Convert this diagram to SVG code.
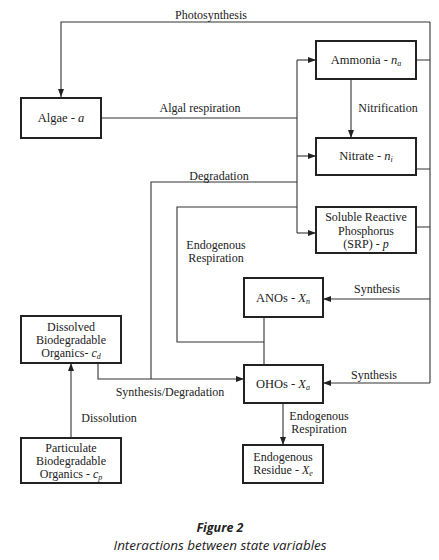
<svg xmlns="http://www.w3.org/2000/svg" width="439" height="560" viewBox="0 0 439 560">
<defs>
<style>
.box{fill:#fff;stroke:#222;stroke-width:2}
.ln{fill:none;stroke:#333;stroke-width:1.1}
.t{font-size:12px;fill:#222;text-anchor:middle}
.b{font-size:12.5px}
.v{font-style:italic}
.s{font-style:italic;font-size:8px}
.cap{fill:#222;text-anchor:middle;font-style:italic}
</style>
<marker id="ah" markerUnits="userSpaceOnUse" markerWidth="8" markerHeight="6" refX="8" refY="3" orient="auto">
<path d="M0,0 L8,3 L0,6 z" fill="#222"/>
</marker>
</defs>
<rect width="439" height="560" fill="#fff"/>
<g id="connectors" font-family="'Liberation Serif', 'DejaVu Serif', serif">
<path class="ln" d="M430,22 H61 V97" marker-end="url(#ah)"/>
<path class="ln" d="M101,118 H297"/>
<path class="ln" d="M297,60 V233"/>
<path class="ln" d="M297,60 H316" marker-end="url(#ah)"/>
<path class="ln" d="M297,156 H316" marker-end="url(#ah)"/>
<path class="ln" d="M297,233 H316" marker-end="url(#ah)"/>
<path class="ln" d="M351,79 V138" marker-end="url(#ah)"/>
<path class="ln" d="M416,60 H430 M416,169 H430 M416,227 H430"/>
<path class="ln" d="M430,22 V383"/>
<path class="ln" d="M430,299 H323" marker-end="url(#ah)"/>
<path class="ln" d="M430,383 H323" marker-end="url(#ah)"/>
<path class="ln" d="M297,182 H151 V379"/>
<path class="ln" d="M297,207 H177 V342 H264"/>
<path class="ln" d="M264,317 V365"/>
<path class="ln" d="M98,363 V379 H244" marker-end="url(#ah)"/>
<path class="ln" d="M71,438 V363" marker-end="url(#ah)"/>
<path class="ln" d="M283,403 V445" marker-end="url(#ah)"/>
<text class="t" x="211" y="19">Photosynthesis</text>
<text class="t" x="200" y="112">Algal respiration</text>
<text class="t" x="388" y="112">Nitrification</text>
<text class="t" x="219" y="180">Degradation</text>
<text class="t" x="216" y="249">Endogenous</text>
<text class="t" x="216" y="262">Respiration</text>
<text class="t" x="377" y="293">Synthesis</text>
<text class="t" x="374" y="379">Synthesis</text>
<text class="t" x="170" y="396">Synthesis/Degradation</text>
<text class="t" x="109" y="422">Dissolution</text>
<text class="t" x="319" y="420" font-size="11.5">Endogenous</text>
<text class="t" x="319" y="433" font-size="11.5">Respiration</text>
</g>
<g font-family="'Liberation Serif', 'DejaVu Serif', serif">
<g id="algae">
<rect class="box" x="21" y="98" width="80" height="40"/>
<text class="t b" x="61" y="122">Algae - <tspan class="v">a</tspan></text>
</g>
<g id="ammonia">
<rect class="box" x="316" y="41" width="100" height="38"/>
<text class="t b" x="366" y="64">Ammonia - <tspan class="v">n</tspan><tspan class="s" dy="2">a</tspan></text>
</g>
<g id="nitrate">
<rect class="box" x="316" y="138" width="100" height="37"/>
<text class="t b" x="366" y="160">Nitrate - <tspan class="v">n</tspan><tspan class="s" dy="2">i</tspan></text>
</g>
<g id="srp">
<rect class="box" x="316" y="207" width="100" height="46"/>
<text class="t" x="366" y="221">Soluble Reactive</text>
<text class="t" x="366" y="235">Phosphorus</text>
<text class="t" x="366" y="248">(SRP) - <tspan class="v">p</tspan></text>
</g>
<g id="anos">
<rect class="box" x="244" y="278" width="79" height="39"/>
<text class="t b" x="283" y="302">ANOs - <tspan class="v">X</tspan><tspan class="s" dy="2">n</tspan></text>
</g>
<g id="ohos">
<rect class="box" x="244" y="365" width="79" height="38"/>
<text class="t b" x="283" y="388">OHOs - <tspan class="v">X</tspan><tspan class="s" dy="2">a</tspan></text>
</g>
<g id="dissolved">
<rect class="box" x="21" y="316" width="100" height="47"/>
<text class="t" x="71" y="331">Dissolved</text>
<text class="t" x="71" y="344">Biodegradable</text>
<text class="t" x="71" y="357">Organics- <tspan class="v">c</tspan><tspan class="s" dy="2">d</tspan></text>
</g>
<g id="particulate">
<rect class="box" x="21" y="438" width="100" height="45"/>
<text class="t" x="71" y="452">Particulate</text>
<text class="t" x="71" y="465">Biodegradable</text>
<text class="t" x="71" y="478">Organics - <tspan class="v">c</tspan><tspan class="s" dy="2">p</tspan></text>
</g>
<g id="residue">
<rect class="box" x="243" y="445" width="80" height="38"/>
<text class="t" x="283" y="461">Endogenous</text>
<text class="t" x="283" y="474">Residue - <tspan class="v">X</tspan><tspan class="s" dy="2">e</tspan></text>
</g>
</g>
<g id="caption" font-family="'Open Sans', 'Liberation Sans', sans-serif">
<text class="cap" x="220" y="532" font-size="12.5" font-weight="bold">Figure 2</text>
<text class="cap" x="220" y="550" font-size="12.5" textLength="213" lengthAdjust="spacingAndGlyphs">Interactions between state variables</text>
</g>
</svg>
